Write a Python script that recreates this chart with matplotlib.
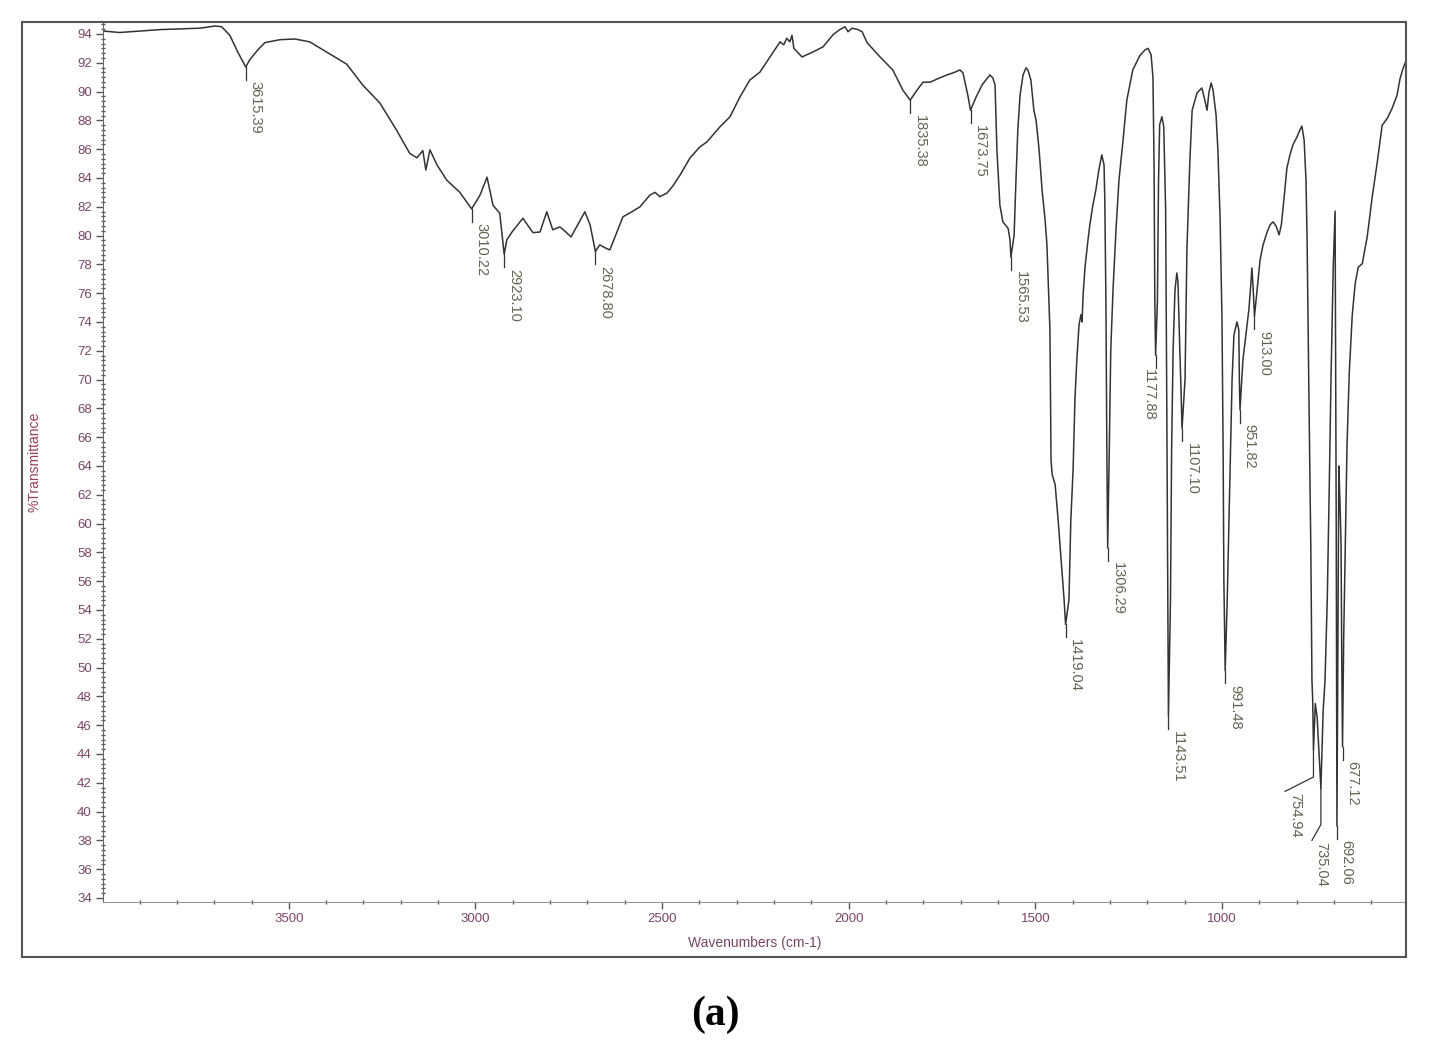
import numpy as np
import matplotlib.pyplot as plt
from matplotlib.patches import Rectangle
from matplotlib.ticker import MultipleLocator

# FTIR spectrum (wavenumber cm-1, %T)
wavenumber = [
    3998, 3953, 3899, 3846, 3792, 3738, 3698, 3680, 3658, 3637, 3615.39, 3605, 3583, 3564,
    3524, 3484, 3444, 3390, 3345, 3302, 3256, 3211, 3176, 3157, 3141, 3133, 3122, 3103,
    3077, 3042, 3010.22, 2988, 2969, 2953, 2935, 2923.10, 2916, 2902, 2873, 2846, 2827,
    2809, 2793, 2774, 2758, 2744, 2707, 2693, 2678.80, 2667, 2653, 2640, 2621, 2605, 2581,
    2559, 2533, 2519, 2506, 2487, 2471, 2452, 2425, 2399, 2380, 2345, 2318, 2292, 2265,
    2238, 2211, 2184, 2174, 2166, 2158, 2152, 2147, 2125, 2096, 2069, 2042, 2024, 2010,
    2002, 1991, 1975, 1964, 1951, 1916, 1882, 1855, 1835.38, 1817, 1801, 1782, 1756, 1737,
    1715, 1702, 1694, 1681, 1673.75, 1659, 1643, 1622, 1614, 1608, 1603, 1595, 1587, 1573,
    1568, 1565.53, 1557, 1552, 1547, 1541, 1533, 1525, 1520, 1512, 1504, 1498, 1490, 1482,
    1474, 1469, 1461, 1458, 1455, 1447, 1439, 1431, 1423, 1419.04, 1410, 1405, 1399, 1394,
    1389, 1383, 1378, 1375, 1372, 1367, 1359, 1354, 1346, 1338, 1330, 1322, 1316, 1314,
    1311, 1308.5, 1306.29, 1302, 1298, 1292, 1284, 1276, 1265, 1255, 1239, 1220, 1206,
    1198, 1190, 1185, 1182, 1180, 1177.88, 1173, 1170, 1167, 1161, 1156, 1151, 1148, 1145.5,
    1143.51, 1138, 1135, 1131, 1126, 1121, 1118, 1113, 1110, 1107.10, 1099, 1094, 1086,
    1080, 1067, 1054, 1046, 1040, 1035, 1029, 1024, 1016, 1011, 1005, 1000, 997, 995,
    991.48, 986, 979, 973, 968, 960, 955, 953.5, 951.82, 944, 936, 928, 922, 920, 917,
    913.00, 906, 898, 890, 879, 871, 863, 855, 847, 841, 833, 826, 818, 810, 799, 791, 786,
    780, 775, 772, 767, 762, 759, 757, 754.94, 750, 745, 740, 735.04, 729, 724, 718, 713,
    708, 702, 697, 694, 692.06, 687, 684, 681, 679, 677.12, 674, 670, 665, 659, 651, 643,
    635, 624, 619, 611, 598, 584, 571, 557, 544, 531, 523, 515, 509, 504,
]
transmittance = [
    94.2, 94.1, 94.2, 94.3, 94.35, 94.4, 94.55, 94.5, 93.9, 92.75, 91.7, 92.2, 92.9, 93.4,
    93.6, 93.65, 93.45, 92.6, 91.9, 90.45, 89.2, 87.3, 85.7, 85.4, 85.9, 84.55, 85.95, 84.9,
    83.85, 83.0, 81.85, 82.8, 84.05, 82.1, 81.55, 78.7, 79.7, 80.25, 81.2, 80.2, 80.25,
    81.65, 80.4, 80.6, 80.25, 79.9, 81.65, 80.75, 78.9, 79.35, 79.15, 79.0, 80.25, 81.3, 81.65,
    82.0, 82.8, 83.0, 82.7, 82.95, 83.45, 84.2, 85.4, 86.15, 86.5, 87.55, 88.25, 89.6, 90.8,
    91.35, 92.4, 93.45, 93.25, 93.7, 93.45, 93.9, 93.0, 92.4, 92.75, 93.1, 93.95, 94.3, 94.5,
    94.15, 94.4, 94.3, 94.15, 93.4, 92.4, 91.5, 90.1, 89.4, 90.1, 90.65, 90.65, 90.95, 91.15,
    91.35, 91.5, 91.3, 89.75, 88.7, 89.6, 90.45, 91.15, 90.95, 90.45, 85.95, 82.1, 80.95, 80.5,
    79.7, 78.5, 80.0, 83.85, 87.35, 89.75, 91.15, 91.65, 91.5, 90.8, 88.7, 88.0, 85.95, 83.15,
    81.1, 79.35, 73.45, 64.4, 63.4, 62.7, 60.25, 57.5, 54.7, 53.0, 54.7, 60.25, 63.7, 68.6,
    71.35, 73.8, 74.5, 74.0, 75.9, 77.8, 79.7, 80.75, 82.1, 83.15, 84.55, 85.6, 84.9, 82.5,
    75.5, 65.1, 58.3, 65.1, 72.05, 76.2, 80.4, 83.85, 86.65, 89.4, 91.5, 92.5, 92.9,
    93.0, 92.55, 91.0, 84.9, 75.5, 71.7, 75.5, 83.85, 87.7, 88.25, 87.55, 81.8, 68.6, 56.0,
    46.6, 54.7, 65.1, 72.05, 76.2, 77.4, 76.8, 72.0, 69.5, 66.6, 70.0, 79.0, 85.25,
    88.7, 89.9, 90.25, 89.4, 88.7, 89.95, 90.6, 90.1, 88.4, 85.95, 81.1, 74.15, 65.1, 56.1,
    49.8, 54.7, 63.0, 70.0, 73.1, 74.0, 73.45, 70.0, 67.9, 71.35, 73.1, 74.85, 76.9, 77.75, 76.55,
    74.4, 76.2, 78.3, 79.35, 80.25, 80.75, 80.95, 80.65, 80.05, 80.75, 82.8, 84.7, 85.6, 86.3, 86.85, 87.35, 87.6,
    86.65, 83.85, 79.7, 68.6, 58.2, 49.1, 47.75, 44.3, 47.5, 46.5, 44.0, 41.6, 47.0, 49.1, 54.7, 62.0,
    70.0, 77.8, 81.7, 60.0, 39.0, 64.0, 61.5, 58.5, 50.0, 44.5, 52.0, 58.0, 65.5, 70.5, 74.5, 76.7,
    77.8, 78.05, 78.8, 79.9, 82.6, 85.1, 87.65, 88.15, 88.85, 89.75, 90.9, 91.6, 92.0, 92.4,
]

peak_labels = ['3615.39', '3010.22', '2923.10', '2678.80', '1835.38', '1673.75', '1565.53',
               '1419.04', '1306.29', '1177.88', '1143.51', '1107.10', '991.48', '951.82',
               '913.00', '692.06', '677.12']

y_ticks = list(range(34, 95, 2))
x_ticks = [3500, 3000, 2500, 2000, 1500, 1000]

tick_col = '#7a4468'
peak_col = '#5f6650'
line_col = '#333333'

fig = plt.figure(figsize=(14.4, 10.52), dpi=100)
ax = fig.add_axes([0.0715, 0.1426, 0.9049, 0.8365])

wn = np.array(wavenumber)
tr = np.array(transmittance)
ax.plot(wn, tr, color=line_col, lw=1.1)

ax.set_xlim(3998, 507)
ax.set_ylim(33.72, 94.83)

# peak labels: short vertical leader, rotated text under it
drop = 0.9
for lab in peak_labels:
    p = float(lab)
    y0 = np.interp(p, wn[::-1], tr[::-1])
    ax.plot([p, p], [y0, y0 - drop], color=line_col, lw=0.9)
    if lab == '1177.88':
        ax.annotate(lab, (p, y0 - drop), xytext=(0, -1), textcoords='offset points',
                    rotation=-90, ha='right', va='top', fontsize=10.5, color=peak_col,
                    family='Liberation Sans')
    else:
        ax.annotate(lab, (p, y0 - drop), xytext=(2, -1), textcoords='offset points',
                    rotation=-90, ha='left', va='top', fontsize=10.5, color=peak_col,
                    family='Liberation Sans')

# the two crowded peaks get bent leaders
bent = [('754.94', 42.4, 831, 41.4), ('735.04', 39.1, 759, 38.0)]
for lab, yb, xe, ye in bent:
    p = float(lab)
    y0 = np.interp(p, wn[::-1], tr[::-1])
    ax.plot([p, p, xe], [y0, yb, ye], color=line_col, lw=0.9)
    ax.annotate(lab, (xe, ye), xytext=(2, -1), textcoords='offset points',
                rotation=-90, ha='left', va='top', fontsize=10.5, color=peak_col,
                family='Liberation Sans')

ax.set_yticks(y_ticks)
ax.set_xticks(x_ticks)
ax.yaxis.set_minor_locator(MultipleLocator(2 / 6))
ax.xaxis.set_minor_locator(MultipleLocator(100))
ax.tick_params(which='major', length=5, width=1, color='#555555', labelsize=9.5,
               labelcolor=tick_col, pad=3)
ax.tick_params(which='minor', length=2.5, width=1, color='#555555', direction='inout')
for t in ax.get_xticklabels() + ax.get_yticklabels():
    t.set_family('Liberation Sans')

for s in ['top', 'right']:
    ax.spines[s].set_visible(False)
ax.spines['left'].set_color('#666666')
ax.spines['bottom'].set_color('#999999')

ax.set_xlabel('Wavenumbers (cm-1)', fontsize=10, color=tick_col, family='Liberation Sans')
ax.set_ylabel('%Transmittance', fontsize=10, color='#9a3d5e', family='Liberation Sans')
ax.xaxis.set_label_coords(0.5, -0.0466)
ax.yaxis.set_label_coords(-0.0522, 0.5)
ax.xaxis.label.set_va('center')
ax.yaxis.label.set_va('center')

# outer frame of the instrument printout
fig.add_artist(Rectangle((0.01528, 0.0903), 0.9611, 0.8888, transform=fig.transFigure,
                         fill=False, ec='#555555', lw=1.5))

fig.text(0.4965, 0.035, '(a)', ha='center', va='center', fontsize=30,
         fontweight='bold', family='Liberation Serif')

fig.savefig('out.png', dpi=100)
